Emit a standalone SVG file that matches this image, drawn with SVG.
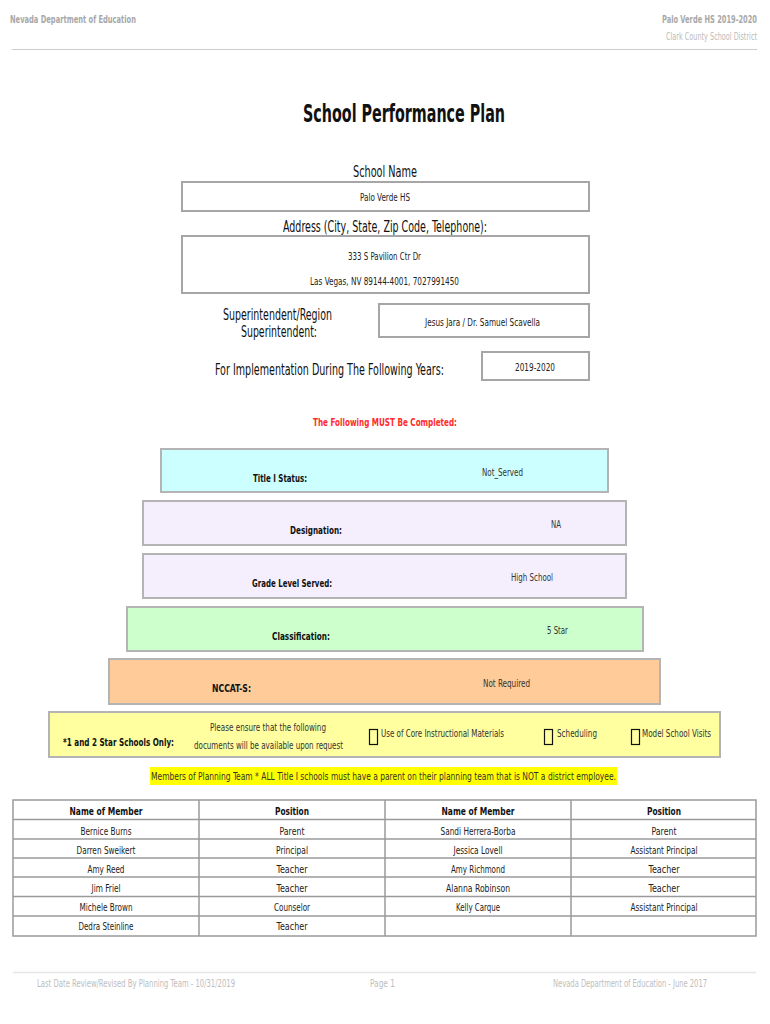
<svg xmlns="http://www.w3.org/2000/svg" width="770" height="1024" viewBox="0 0 770 1024">
<style>
text{font-family:"DejaVu Sans Condensed","DejaVu Sans",sans-serif;}
.hdr{font-size:10px;font-weight:bold;fill:#a8a8a8;}
.hdr2{font-size:10px;fill:#bbbbbb;}
.ttl{font-size:24px;font-weight:bold;fill:#111;}
.lbl{font-size:15px;fill:#111;}
.val{font-size:10px;fill:#222;}
.red{font-size:11px;font-weight:bold;fill:#ff2a2a;}
.blab{font-size:11px;font-weight:bold;fill:#111;}
.bval{font-size:11px;fill:#333;}
.sm{font-size:10.5px;fill:#333;}
.th{font-size:11px;font-weight:bold;fill:#111;}
.td{font-size:10.5px;fill:#222;}
.ft{font-size:10px;fill:#bdbdbd;}
.fbox{stroke:#a6a6a6;stroke-width:2;fill:#fff;}
.cbox{stroke:#b4b4b4;stroke-width:2;}
.chk{fill:none;stroke:#111;stroke-width:1.2;}
.grid{stroke:#9a9a9a;stroke-width:1.5;fill:none;}
</style>

<g id="header">
<text class="hdr" x="10" y="23" textLength="126" lengthAdjust="spacingAndGlyphs">Nevada Department of Education</text>
<text class="hdr" x="662" y="23" textLength="95" lengthAdjust="spacingAndGlyphs">Palo Verde HS  2019-2020</text>
<text class="hdr2" x="666" y="40" textLength="91" lengthAdjust="spacingAndGlyphs">Clark County School District</text>
<line x1="12" y1="49.5" x2="757" y2="49.5" stroke="#cccccc" stroke-width="1"/>
</g>

<g id="title">
<text class="ttl" x="303" y="122" textLength="202" lengthAdjust="spacingAndGlyphs">School Performance Plan</text>
</g>

<g id="school-name">
<text class="lbl" x="353" y="177" textLength="64" lengthAdjust="spacingAndGlyphs">School Name</text>
<rect class="fbox" x="182" y="182" width="407" height="29"/>
<text class="val" x="360" y="201" textLength="50" lengthAdjust="spacingAndGlyphs">Palo Verde HS</text>
</g>

<g id="address">
<text class="lbl" x="283" y="232" textLength="204" lengthAdjust="spacingAndGlyphs">Address (City, State, Zip Code, Telephone):</text>
<rect class="fbox" x="182" y="236" width="407" height="57"/>
<text class="val" x="348" y="260" textLength="73" lengthAdjust="spacingAndGlyphs">333 S Pavilion Ctr Dr</text>
<text class="val" x="310" y="285" textLength="149" lengthAdjust="spacingAndGlyphs">Las Vegas, NV  89144-4001, 7027991450</text>
</g>

<g id="superintendent">
<text class="lbl" x="223" y="320" textLength="109" lengthAdjust="spacingAndGlyphs">Superintendent/Region</text>
<text class="lbl" x="241" y="337" textLength="76" lengthAdjust="spacingAndGlyphs">Superintendent:</text>
<rect class="fbox" x="379" y="304" width="210" height="33"/>
<text class="val" x="425" y="326" textLength="115" lengthAdjust="spacingAndGlyphs">Jesus Jara / Dr. Samuel Scavella</text>
</g>

<g id="years">
<text class="lbl" x="444" y="375" text-anchor="end" textLength="229" lengthAdjust="spacingAndGlyphs">For Implementation During The Following Years:</text>
<rect class="fbox" x="482" y="352" width="107" height="28"/>
<text class="val" x="515" y="371" textLength="40" lengthAdjust="spacingAndGlyphs">2019-2020</text>
</g>

<g id="must-complete">
<text class="red" x="313" y="426" textLength="144" lengthAdjust="spacingAndGlyphs">The Following MUST Be Completed:</text>
</g>

<g id="title-i">
<rect class="cbox" x="161" y="449" width="447" height="43" fill="#ccffff"/>
<text class="blab" x="253" y="482" textLength="54" lengthAdjust="spacingAndGlyphs">Title I Status:</text>
<text class="bval" x="482" y="476" textLength="41" lengthAdjust="spacingAndGlyphs">Not_Served</text>
</g>

<g id="designation">
<rect class="cbox" x="143" y="501" width="483" height="44" fill="#f5effd"/>
<text class="blab" x="290" y="534" textLength="52" lengthAdjust="spacingAndGlyphs">Designation:</text>
<text class="bval" x="551" y="528" textLength="10" lengthAdjust="spacingAndGlyphs">NA</text>
</g>

<g id="grade-level">
<rect class="cbox" x="143" y="554" width="483" height="44" fill="#f5effd"/>
<text class="blab" x="252" y="587" textLength="80" lengthAdjust="spacingAndGlyphs">Grade Level Served:</text>
<text class="bval" x="511" y="581" textLength="42" lengthAdjust="spacingAndGlyphs">High School</text>
</g>

<g id="classification">
<rect class="cbox" x="127" y="607" width="516" height="44" fill="#ccffcc"/>
<text class="blab" x="272" y="640" textLength="58" lengthAdjust="spacingAndGlyphs">Classification:</text>
<text class="bval" x="547" y="634" textLength="21" lengthAdjust="spacingAndGlyphs">5 Star</text>
</g>

<g id="nccat-s">
<rect class="cbox" x="109" y="659" width="551" height="45" fill="#ffcc99"/>
<text class="blab" x="212" y="692" textLength="39" lengthAdjust="spacingAndGlyphs">NCCAT-S:</text>
<text class="bval" x="483" y="687" textLength="47" lengthAdjust="spacingAndGlyphs">Not Required</text>
</g>

<g id="star-schools">
<rect class="cbox" x="49" y="712" width="671" height="45" fill="#ffffa0"/>
<text class="blab" x="174" y="746" text-anchor="end" textLength="111" lengthAdjust="spacingAndGlyphs">*1 and 2 Star Schools Only:</text>
<text class="sm" x="210" y="731" textLength="116" lengthAdjust="spacingAndGlyphs">Please ensure that the following</text>
<text class="sm" x="194" y="749" textLength="149" lengthAdjust="spacingAndGlyphs">documents will be available upon request</text>
<rect class="chk" x="369.5" y="729.5" width="8" height="15"/>
<text class="sm" x="381" y="737" textLength="123" lengthAdjust="spacingAndGlyphs">Use of Core Instructional Materials</text>
<rect class="chk" x="544.5" y="729.5" width="8" height="15"/>
<text class="sm" x="557" y="737" textLength="40" lengthAdjust="spacingAndGlyphs">Scheduling</text>
<rect class="chk" x="631.5" y="729.5" width="8" height="15"/>
<text class="sm" x="642" y="737" textLength="69" lengthAdjust="spacingAndGlyphs">Model School Visits</text>
</g>

<g id="planning-note">
<rect x="150" y="767" width="467" height="18" fill="#ffff00"/>
<text class="sm" x="151" y="780" textLength="465" lengthAdjust="spacingAndGlyphs" fill="#222">Members of Planning Team * ALL Title I schools must have a parent on their planning team that is NOT a district employee.</text>
</g>

<g id="members-table">
<rect class="grid" x="13" y="800" width="743" height="136" stroke-width="2"/>
<line class="grid" x1="13" y1="819.5" x2="756" y2="819.5"/>
<line class="grid" x1="13" y1="839" x2="756" y2="839"/>
<line class="grid" x1="13" y1="858" x2="756" y2="858"/>
<line class="grid" x1="13" y1="877" x2="756" y2="877"/>
<line class="grid" x1="13" y1="896.5" x2="756" y2="896.5"/>
<line class="grid" x1="13" y1="916" x2="756" y2="916"/>
<line class="grid" x1="199" y1="800" x2="199" y2="936" stroke-width="1"/>
<line class="grid" x1="385" y1="800" x2="385" y2="936" stroke-width="1"/>
<line class="grid" x1="571" y1="800" x2="571" y2="936" stroke-width="1"/>

<g text-anchor="middle">
<text class="th" x="106" y="815" textLength="73" lengthAdjust="spacingAndGlyphs">Name of Member</text>
<text class="th" x="292" y="815" textLength="34" lengthAdjust="spacingAndGlyphs">Position</text>
<text class="th" x="478" y="815" textLength="73" lengthAdjust="spacingAndGlyphs">Name of Member</text>
<text class="th" x="664" y="815" textLength="34" lengthAdjust="spacingAndGlyphs">Position</text>

<text class="td" x="106" y="835" textLength="51" lengthAdjust="spacingAndGlyphs">Bernice Burns</text>
<text class="td" x="292" y="835" textLength="25" lengthAdjust="spacingAndGlyphs">Parent</text>
<text class="td" x="478" y="835" textLength="75" lengthAdjust="spacingAndGlyphs">Sandi Herrera-Borba</text>
<text class="td" x="664" y="835" textLength="25" lengthAdjust="spacingAndGlyphs">Parent</text>

<text class="td" x="106" y="854" textLength="59" lengthAdjust="spacingAndGlyphs">Darren Sweikert</text>
<text class="td" x="292" y="854" textLength="32" lengthAdjust="spacingAndGlyphs">Principal</text>
<text class="td" x="478" y="854" textLength="49" lengthAdjust="spacingAndGlyphs">Jessica Lovell</text>
<text class="td" x="664" y="854" textLength="67" lengthAdjust="spacingAndGlyphs">Assistant Principal</text>

<text class="td" x="106" y="873" textLength="37" lengthAdjust="spacingAndGlyphs">Amy Reed</text>
<text class="td" x="292" y="873" textLength="31" lengthAdjust="spacingAndGlyphs">Teacher</text>
<text class="td" x="478" y="873" textLength="54" lengthAdjust="spacingAndGlyphs">Amy Richmond</text>
<text class="td" x="664" y="873" textLength="31" lengthAdjust="spacingAndGlyphs">Teacher</text>

<text class="td" x="106" y="892" textLength="29" lengthAdjust="spacingAndGlyphs">Jim Friel</text>
<text class="td" x="292" y="892" textLength="31" lengthAdjust="spacingAndGlyphs">Teacher</text>
<text class="td" x="478" y="892" textLength="64" lengthAdjust="spacingAndGlyphs">Alanna Robinson</text>
<text class="td" x="664" y="892" textLength="31" lengthAdjust="spacingAndGlyphs">Teacher</text>

<text class="td" x="106" y="911" textLength="53" lengthAdjust="spacingAndGlyphs">Michele Brown</text>
<text class="td" x="292" y="911" textLength="36" lengthAdjust="spacingAndGlyphs">Counselor</text>
<text class="td" x="478" y="911" textLength="44" lengthAdjust="spacingAndGlyphs">Kelly Carque</text>
<text class="td" x="664" y="911" textLength="67" lengthAdjust="spacingAndGlyphs">Assistant Principal</text>

<text class="td" x="106" y="930" textLength="55" lengthAdjust="spacingAndGlyphs">Dedra Steinline</text>
<text class="td" x="292" y="930" textLength="31" lengthAdjust="spacingAndGlyphs">Teacher</text>
</g>
</g>

<g id="footer">
<line x1="13" y1="972.5" x2="756" y2="972.5" stroke="#e6e6e6" stroke-width="1.5"/>
<text class="ft" x="37" y="987" textLength="198" lengthAdjust="spacingAndGlyphs">Last Date Review/Revised By Planning Team - 10/31/2019</text>
<text class="ft" x="370" y="987" textLength="25" lengthAdjust="spacingAndGlyphs">Page 1</text>
<text class="ft" x="553" y="987" textLength="154" lengthAdjust="spacingAndGlyphs">Nevada Department of Education - June 2017</text>
</g>
</svg>
